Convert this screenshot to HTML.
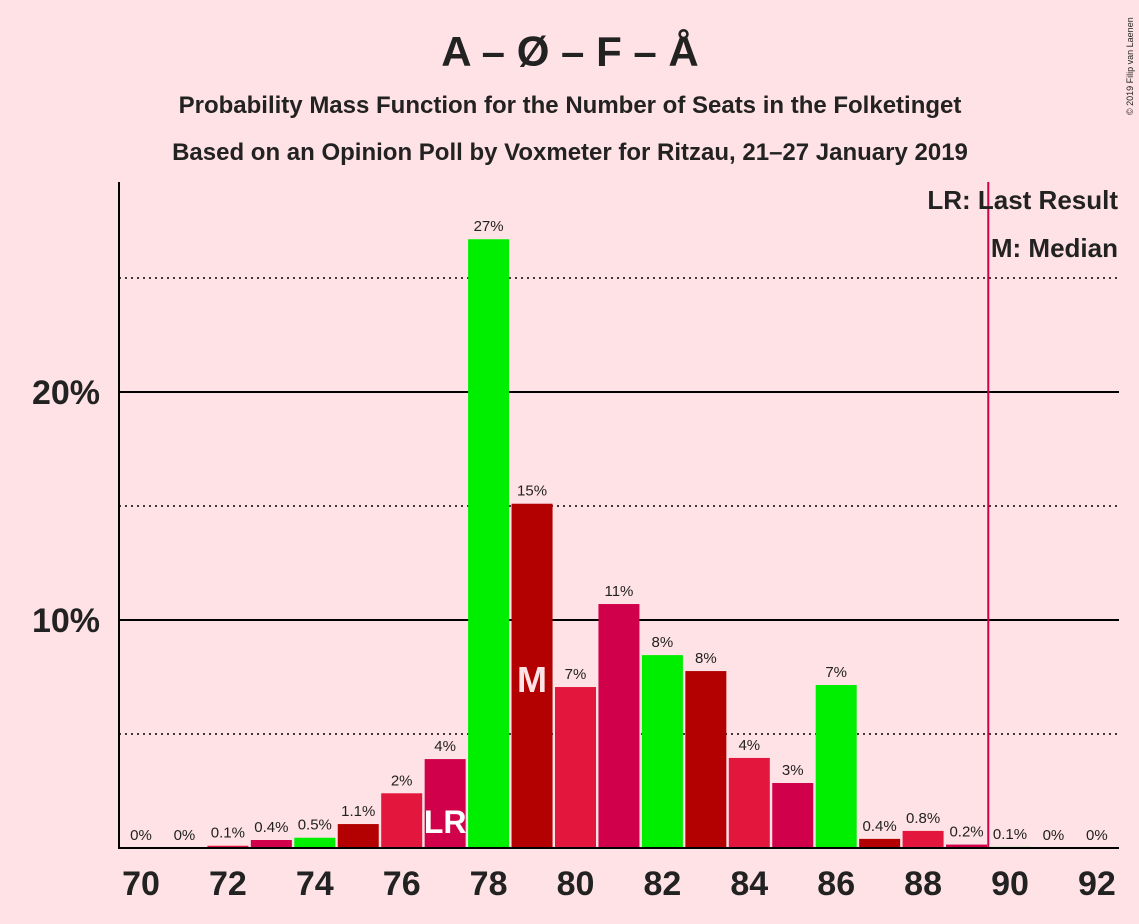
<!DOCTYPE html>
<html><head><meta charset="utf-8"><style>
body{margin:0;background:#ffe2e6;font-family:"Liberation Sans",sans-serif}
svg{display:block}
</style></head><body>
<svg id="c" width="1139" height="924">
<rect width="1139" height="924" fill="#ffe2e6"/>
<text x="570" y="66" text-anchor="middle" font-size="42" font-weight="bold" fill="#222">A – Ø – F – Å</text>
<text x="570" y="113" text-anchor="middle" font-size="24" font-weight="bold" fill="#222">Probability Mass Function for the Number of Seats in the Folketinget</text>
<text x="570" y="160" text-anchor="middle" font-size="24" font-weight="bold" fill="#222">Based on an Opinion Poll by Voxmeter for Ritzau, 21–27 January 2019</text>
<text x="1133" y="115" font-size="9" fill="#222" transform="rotate(-90 1133 115)">© 2019 Filip van Laenen</text>
<g id="grid"></g><g id="bars"></g><g id="labels"></g>
<line x1="119" y1="182" x2="119" y2="849" stroke="#000" stroke-width="2"/>
<line x1="119" y1="848" x2="1119" y2="848" stroke="#000" stroke-width="2"/>
<text x="1118" y="209" text-anchor="end" font-size="26" font-weight="bold" fill="#222">LR: Last Result</text>
<text x="1118" y="257" text-anchor="end" font-size="26" font-weight="bold" fill="#222">M: Median</text>
</svg>
<script>
const seats=[70,71,72,73,74,75,76,77,78,79,80,81,82,83,84,85,86,87,88,89,90,91,92];
const probs=[0,0,0.1,0.35,0.45,1.05,2.4,3.9,26.7,15.1,7.06,10.7,8.46,7.76,3.95,2.85,7.15,0.4,0.75,0.15,0.05,0,0];
const labelsTxt=["0%","0%","0.1%","0.4%","0.5%","1.1%","2%","4%","27%","15%","7%","11%","8%","8%","4%","3%","7%","0.4%","0.8%","0.2%","0.1%","0%","0%"];
const xTicks=[70,72,74,76,78,80,82,84,86,88,90,92];
const yTicks=[5,10,15,20,25];
const lastResult=77, median=79, majority=89.5;
const colors=["#00ee00","#b30000","#e3173e","#d0004a"];
const X=s=>141+(s-70)*43.45, Y=p=>848-p*22.8;
const ns="http://www.w3.org/2000/svg";
function mk(t,a,parent){const e=document.createElementNS(ns,t);for(const k in a)e.setAttribute(k,a[k]);document.getElementById(parent).appendChild(e);return e;}
yTicks.forEach(v=>{
 const major=v%10===0;
 const l=mk('line',{x1:119,x2:1119,y1:Y(v),y2:Y(v),stroke:'#000','stroke-width':major?2:1.5,'stroke-dasharray':major?'':'2,4'},'grid');
 
 
 if(major){const t=mk('text',{x:100,y:Y(v)+12,'text-anchor':'end','font-size':34,'font-weight':'bold',fill:'#222'},'grid');t.textContent=v+'%';
 
 }
});
seats.forEach((s,i)=>{
 const p=probs[i];
 if(p>0){const r=mk('rect',{x:X(s)-20.5,y:Y(p),width:41,height:848-Y(p),fill:colors[(s-70)%4]},'bars');
 
 }
 const t=mk('text',{x:X(s),y:Y(p)-8,'text-anchor':'middle','font-size':15,fill:'#222'},'labels');t.textContent=labelsTxt[i];
 
 
 if(s===lastResult){const m=mk('text',{x:X(s),y:833,'text-anchor':'middle','font-size':32,'font-weight':'bold',fill:'#fff'},'labels');m.textContent='LR';
 
 }
 if(s===median){const m=mk('text',{x:X(s),y:692,'text-anchor':'middle','font-size':36,'font-weight':'bold',fill:'#ffe2e6'},'labels');m.textContent='M';
 
 }
});
xTicks.forEach(s=>{const t=mk('text',{x:X(s),y:895,'text-anchor':'middle','font-size':34,'font-weight':'bold',fill:'#222'},'labels');t.textContent=s;
 
 });
const ml=mk('line',{x1:X(majority),x2:X(majority),y1:182,y2:848,stroke:'#d0004a','stroke-width':2},'labels');


</script>
</body></html>
